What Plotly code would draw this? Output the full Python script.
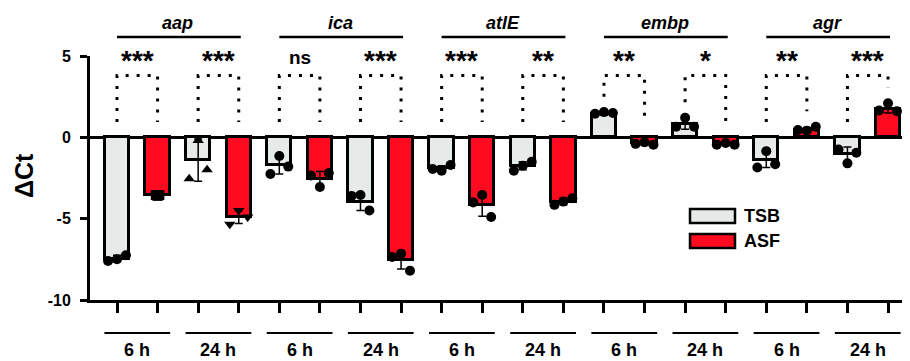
import plotly.graph_objects as go

# ---------------- data ----------------
genes = ["aap", "ica", "atlE", "embp", "agr"]
times = ["6 h", "24 h"]
media = ["TSB", "ASF"]

# bar order: gene -> time -> medium (TSB, ASF)
means = [-7.45, -3.55, -1.40, -4.90,
         -1.70, -2.55, -3.95, -7.55,
         -1.90, -4.15, -1.75, -3.95,
          1.45, -0.35,  0.80, -0.40,
         -1.40,  0.45, -1.05,  1.75]
sds = [0.20, 0.05, 1.30, 0.40,
       0.55, 0.45, 0.55, 0.55,
       0.15, 0.70, 0.25, 0.20,
       0.10, 0.15, 0.30, 0.10,
       0.45, 0.15, 0.45, 0.25]
# replicate points (left, centre, right)
points = [[-7.60, -7.50, -7.25], [-3.55, -3.60, -3.55], [-2.55, -0.20, -2.00], [-5.35, -4.50, -4.90],
          [-2.25, -1.15, -1.80], [-2.35, -3.05, -2.20], [-3.60, -3.55, -4.50], [-7.35, -7.15, -8.20],
          [-1.95, -2.05, -1.70], [-4.00, -3.55, -4.90], [-2.05, -1.75, -1.50], [-4.15, -3.95, -3.75],
          [1.45, 1.55, 1.50], [-0.40, -0.30, -0.45], [0.65, 1.20, 0.65], [-0.45, -0.35, -0.45],
          [-1.85, -0.85, -1.65], [0.45, 0.40, 0.65], [-0.75, -1.60, -0.95], [1.65, 2.10, 1.60]]
significance = ["***", "***", "ns", "***", "***", "**", "**", "*", "**", "***"]
ytick_vals = [-10, -5, 0, 5]
ytick_text = ["-10", "-5", "0", "5"]

# ---------------- style ----------------
FONT = "Liberation Sans, Arial, sans-serif"
C_TSB = "#E6EBEA"
C_ASF = "#FF0A1E"
symbols_by_bar = ["circle", "square", "triangle-up", "triangle-down"] + ["circle"] * 16
offsets = [-0.22, 0.0, 0.22]
spread = [1, 0.2, 1, 1] + [1] * 16

n = len(means)
xs = list(range(n))
colors = [C_TSB if i % 2 == 0 else C_ASF for i in xs]

# page body has an 8px margin: figure is placed at (8, 8)
OFF = 8
W, H = 910 - OFF, 361 - OFF
L, R, T, B = 90 - OFF, 0, 56 - OFF, 361 - 300
pw, ph = W - L - R, H - T - B

fig = go.Figure()
fig.add_trace(go.Bar(
    x=xs, y=means, width=0.6,
    marker=dict(color=colors, line=dict(color="black", width=3)),
    error_y=dict(type="data", array=sds, visible=True, color="black", thickness=1.5, width=4),
    showlegend=False, hoverinfo="skip"))

px_, py_, ps_ = [], [], []
for i in xs:
    for k in range(3):
        px_.append(i + offsets[k] * spread[i])
        py_.append(points[i][k])
        ps_.append(symbols_by_bar[i])
fig.add_trace(go.Scatter(
    x=px_, y=py_, mode="markers",
    marker=dict(color="black", size=10, symbol=ps_, line=dict(width=0)),
    showlegend=False, hoverinfo="skip", cliponaxis=False))

shapes = []
annotations = []

# significance brackets
for p in range(n // 2):
    a, b = 2 * p, 2 * p + 1
    top = 3.8
    la = max(0, means[a] + sds[a], max(points[a])) + 0.95
    lb = max(0, means[b] + sds[b], max(points[b])) + 0.95
    shapes.append(dict(type="path", xref="x", yref="y",
                       path=f"M {a},{la} L {a},{top} L {b},{top} L {b},{lb}",
                       line=dict(color="black", width=3, dash="3px,8px")))
    s = significance[p]
    annotations.append(dict(x=(a + b) / 2, y=4.7 if s != "ns" else 4.9, xref="x", yref="y",
                            text=s, showarrow=False,
                            font=dict(family=FONT, size=28 if s != "ns" else 19,
                                      color="black", weight="bold")))
    # time labels below
    annotations.append(dict(x=(a + b) / 2, y=-(350 - 300) / ph, xref="x", yref="paper",
                            text=times[p % 2], showarrow=False, yanchor="middle",
                            font=dict(family=FONT, size=18, color="black", weight="bold")))
    shapes.append(dict(type="line", xref="x", yref="paper",
                       x0=(a + b) / 2 - 0.81, x1=(a + b) / 2 + 0.81,
                       y0=-(333 - 300) / ph, y1=-(333 - 300) / ph,
                       line=dict(color="black", width=2)))

# gene labels on top
for g, gene in enumerate(genes):
    first, last = 4 * g, 4 * g + 3
    shapes.append(dict(type="line", xref="x", yref="paper",
                       x0=first, x1=last + 0.05, y0=(300 - 37) / ph, y1=(300 - 37) / ph,
                       line=dict(color="black", width=2.5)))
    annotations.append(dict(x=(first + last) / 2, y=(300 - 23) / ph, xref="x", yref="paper",
                            text=f"<i>{gene}</i>", showarrow=False, yanchor="middle",
                            font=dict(family=FONT, size=18, color="black", weight="bold")))

# y-axis title
annotations.append(dict(x=(24 - 90) / pw, y=(300 - 176) / ph, xref="paper", yref="paper", text="ΔCt",
                        textangle=-90, showarrow=False, xanchor="center", yanchor="middle",
                        font=dict(family=FONT, size=25, color="black", weight="bold")))

# manual legend (page pixel positions)
leg = [(media[0], C_TSB, 209), (media[1], C_ASF, 234)]
for name, col, ytop in leg:
    x0p = (690 - 90) / pw
    x1p = (735 - 90) / pw
    y0p = (300 - ytop) / ph
    y1p = (300 - (ytop + 14)) / ph
    shapes.append(dict(type="rect", xref="paper", yref="paper", x0=x0p, x1=x1p, y0=y1p, y1=y0p,
                       fillcolor=col, line=dict(color="black", width=2.5)))
    annotations.append(dict(x=(742 - 90) / pw, y=(300 - (ytop + 7)) / ph, xref="paper", yref="paper",
                            text=name, showarrow=False, xanchor="left", yanchor="middle",
                            font=dict(family=FONT, size=18, color="black", weight="bold")))

x0 = -27 / 40.58
x1 = x0 + pw / 40.58
fig.update_layout(
    width=W, height=H, margin=dict(l=L, r=R, t=T, b=B),
    plot_bgcolor="white", paper_bgcolor="white",
    bargap=0, shapes=shapes, annotations=annotations,
    xaxis=dict(range=[x0, x1], showgrid=False, zeroline=False, showline=True,
               linecolor="black", linewidth=3, ticks="outside", ticklen=10, tickwidth=3,
               tickcolor="black", tickvals=xs, showticklabels=False),
    yaxis=dict(range=[-10, 5], showgrid=False, zeroline=True, zerolinecolor="black",
               zerolinewidth=3, showline=True, linecolor="black", linewidth=3,
               ticks="outside", ticklen=7, tickwidth=3, tickcolor="black",
               tickvals=ytick_vals, ticktext=ytick_text, ticklabelstandoff=6,
               tickfont=dict(family=FONT, size=16, color="black", weight="bold")),
)
fig.write_html("out.html")
